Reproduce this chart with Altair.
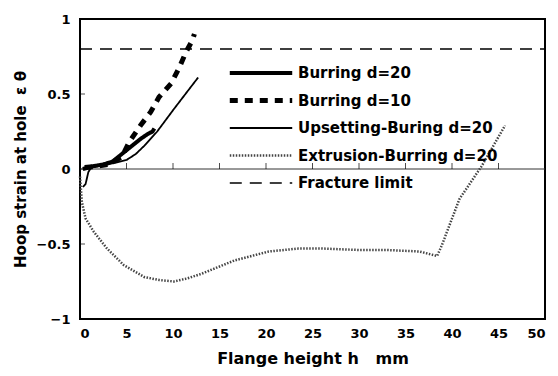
import altair as alt
import pandas as pd

series_names = ["Burring d=20", "Burring d=10", "Upsetting-Buring d=20",
                "Extrusion-Burring d=20", "Fracture limit"]

b20_h = [0.3, 1.5, 2.5, 3.5, 4.7, 5.5, 6.5, 7.2, 7.8, 8.0]
b20_e = [0.0, 0.02, 0.03, 0.05, 0.11, 0.15, 0.20, 0.23, 0.25, 0.27]

b10_h = [0.5, 2.0, 3.0, 4.5, 5.3, 6.5, 7.6, 8.5, 9.8, 10.7, 11.4, 12.1, 12.3]
b10_e = [0.01, 0.02, 0.03, 0.08, 0.18, 0.29, 0.38, 0.48, 0.57, 0.68, 0.78, 0.86, 0.90]

ups_h = [0.3, 0.6, 0.9, 1.2, 3.0, 5.0, 6.0, 7.0, 8.3, 10.1, 12.7]
ups_e = [-0.12, -0.10, -0.02, 0.01, 0.03, 0.06, 0.10, 0.16, 0.25, 0.40, 0.61]

ext_h = [0.0, 0.2, 0.6, 1.5, 2.9, 4.7, 6.9, 8.5, 10.1, 11.5, 13.0, 16.6, 20.3,
         23.5, 26.0, 30.0, 33.0, 36.5, 38.4, 38.9, 40.8, 43.2, 45.7]
ext_e = [-0.05, -0.22, -0.33, -0.42, -0.53, -0.64, -0.72, -0.74, -0.75, -0.73,
         -0.70, -0.61, -0.55, -0.53, -0.53, -0.54, -0.54, -0.55, -0.58, -0.51,
         -0.20, 0.02, 0.29]

frac_h = [0.0, 50.0]
frac_e = [0.8, 0.8]

x_labels = [0, 5, 10, 15, 20, 25, 30, 35, 40, 45, 50]
x_ticks = [5, 10, 15, 20, 25, 30, 35, 40, 45]
y_ticks = [-1, -0.5, 0, 0.5, 1]

rows = []
for name, hs, es in zip(series_names,
                        [b20_h, b10_h, ups_h, ext_h, frac_h],
                        [b20_e, b10_e, ups_e, ext_e, frac_e]):
    for i, (h, e) in enumerate(zip(hs, es)):
        rows.append({"series": name, "h": h, "e": e, "i": i})
df = pd.DataFrame(rows)

FONT = "DejaVu Sans"
NB = "\u00a0"

x_scale = alt.Scale(domain=[0, 50], nice=False)
y_scale = alt.Scale(domain=[-1, 1], nice=False)

lines = alt.Chart(df).mark_line().encode(
    x=alt.X("h:Q", scale=x_scale,
            axis=alt.Axis(title="Flange height h" + NB * 3 + "mm", values=x_labels,
                          ticks=False, domain=False, grid=False, labelPadding=8,
                          labelFontSize=13, labelFontWeight="bold", labelFont=FONT,
                          labelColor="black", titleFont=FONT, titleFontSize=16,
                          titleFontWeight="bold", titleColor="black", titlePadding=10)),
    y=alt.Y("e:Q", scale=y_scale,
            axis=alt.Axis(title="Hoop strain at hole" + NB * 2 + "ε" + NB + "θ", values=y_ticks,
                          format="~g",
                          ticks=False, domain=False, grid=False, labelPadding=10,
                          labelFontSize=13, labelFontWeight="bold", labelFont=FONT,
                          labelColor="black", titleFont=FONT, titleFontSize=15,
                          titleFontWeight="bold", titleColor="black", titlePadding=8)),
    color=alt.Color("series:N",
                    scale=alt.Scale(domain=series_names,
                                    range=["black", "black", "black", "#444444", "black"]),
                    legend=alt.Legend(title=None, orient="none", legendX=147, legendY=46,
                                      symbolType="stroke", symbolSize=3900,
                                      clipHeight=16, labelLimit=400,
                                      labelFont=FONT, labelFontSize=15,
                                      labelFontWeight="bold", labelColor="black",
                                      rowPadding=11.5, labelOffset=3,
                                      symbolStrokeColor="black")),
    strokeDash=alt.StrokeDash("series:N",
                              scale=alt.Scale(domain=series_names,
                                              range=[[1, 0], [8, 7], [1, 0], [1.5, 1.5], [12, 8]]),
                              legend=alt.Legend(title=None)),
    strokeWidth=alt.StrokeWidth("series:N",
                                scale=alt.Scale(type="ordinal", domain=series_names,
                                                range=[4, 5, 1.8, 2.5, 1.6]),
                                legend=alt.Legend(title=None)),
    order="i:Q",
)

zero = alt.Chart(pd.DataFrame({"y": [0]})).mark_rule(color="#333333", strokeWidth=1).encode(
    y=alt.Y("y:Q", scale=y_scale))

xt = alt.Chart(pd.DataFrame({"x": x_ticks, "y": [0] * len(x_ticks)})).mark_tick(
    orient="vertical", size=6, thickness=1, yOffset=-3, color="black").encode(
    x=alt.X("x:Q", scale=x_scale), y=alt.Y("y:Q", scale=y_scale))

yt = alt.Chart(pd.DataFrame({"x": [0] * len(y_ticks), "y": y_ticks})).mark_tick(
    orient="horizontal", size=5, thickness=1, xOffset=2.5, color="black").encode(
    x=alt.X("x:Q", scale=x_scale), y=alt.Y("y:Q", scale=y_scale))

chart = alt.layer(zero, xt, yt, lines).properties(
    width=465, height=300,
    autosize=alt.AutoSizeParams(type="none"),
    padding={"left": 72, "top": 11, "right": 5, "bottom": 49},
    background="white",
).configure_view(stroke="black", strokeWidth=2)

chart.save("out.html", embed_options={"renderer": "svg", "actions": False})
